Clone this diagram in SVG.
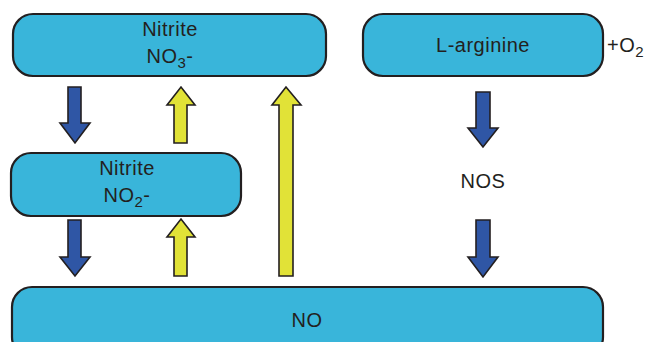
<svg xmlns="http://www.w3.org/2000/svg" width="646" height="342" viewBox="0 0 646 342">
<style>
.box{fill:#39b5da;stroke:#231f20;stroke-width:2.2}
.t{font-family:"Liberation Sans",Arial,sans-serif;font-size:20px;letter-spacing:0.5px;fill:#231f20;text-anchor:middle}
.blue{fill:#2f56a5;stroke:#231f20;stroke-width:1.6;stroke-linejoin:miter}
.yel{fill:#e1e237;stroke:#231f20;stroke-width:1.6;stroke-linejoin:miter}
</style>
<rect width="646" height="342" fill="#fff"/>
<g id="no3">
<rect class="box" x="13" y="14" width="313" height="62" rx="20"/>
<text class="t" x="170" y="36">Nitrite</text>
<text class="t" x="170" y="63">NO<tspan font-size="15" dy="5">3</tspan><tspan dy="-5">-</tspan></text>
</g>
<g id="larg">
<rect class="box" x="363" y="14" width="240" height="62" rx="20"/>
<text class="t" x="483" y="52">L-arginine</text>
<text class="t" x="607" y="52" style="text-anchor:start">+O<tspan font-size="15" dy="5">2</tspan></text>
</g>
<g id="no2">
<rect class="box" x="11" y="153" width="230" height="63" rx="20"/>
<text class="t" x="127" y="175">Nitrite</text>
<text class="t" x="127" y="202">NO<tspan font-size="15" dy="5">2</tspan><tspan dy="-5">-</tspan></text>
</g>
<g id="no">
<rect class="box" x="12" y="287" width="591" height="70" rx="20"/>
<text class="t" x="307" y="327">NO</text>
</g>
<g id="nos">
<text class="t" x="483" y="188">NOS</text>
</g>
<g id="connectors">
<path class="blue" d="M68,87 H81 V123 H90 L75,143 L60,123 H68 Z"/>
<path class="blue" d="M68,220 H81 V257 H90 L75,276 L60,257 H68 Z"/>
<path class="yel" d="M174,143 H187 V105 H195 L181,87 L167,105 H174 Z"/>
<path class="yel" d="M174,276 H187 V237 H195 L181,219 L167,237 H174 Z"/>
<path class="yel" d="M279,276 H293 V105 H301 L286,87 L272,105 H279 Z"/>
<path class="blue" d="M476,92 H490 V128 H498 L483,147 L468,128 H476 Z"/>
<path class="blue" d="M476,220 H490 V257 H498 L483,277 L468,257 H476 Z"/>
</g>
</svg>
